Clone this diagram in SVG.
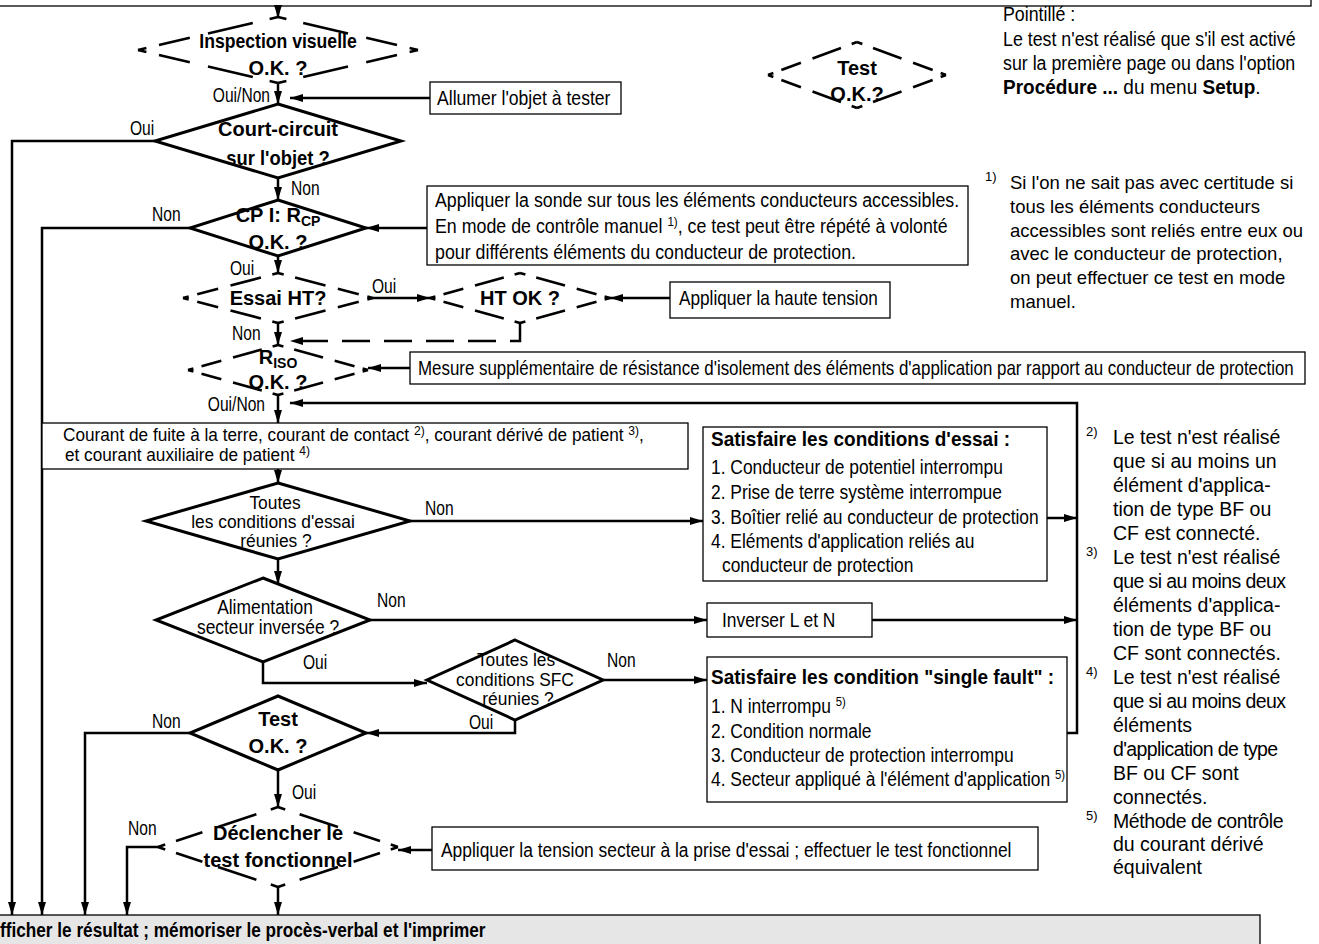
<svg xmlns="http://www.w3.org/2000/svg" width="1319" height="944" viewBox="0 0 1319 944">
<defs>
<marker id="ah" viewBox="0 0 13 8" refX="13" refY="4" markerWidth="13" markerHeight="8" markerUnits="userSpaceOnUse" orient="auto"><path d="M0,0 L13,4 L0,8 z" fill="#000"/></marker>
<style>
.n{font-family:"Liberation Sans",Arial,sans-serif;font-size:20px;fill:#000}
.m{font-size:18.5px}
.l{font-family:"Liberation Sans",Arial,sans-serif;font-size:19.5px;fill:#000}
.b{font-weight:bold}
.f{font-family:"Liberation Sans",Arial,sans-serif;font-size:19.5px;fill:#000}
.f1{font-size:18.5px}
.sup{font-size:13px}
.c{text-anchor:middle}
.e{text-anchor:end}
.box{fill:#fff;stroke:#000;stroke-width:1.3}
.dia{fill:#fff;stroke:#000;stroke-width:3;stroke-linejoin:miter}
.dd{fill:none;stroke:#000;stroke-width:2.6;stroke-dasharray:6 9 22 13 32 12 6}
.cn{fill:none;stroke:#000;stroke-width:2.5}
.ar{marker-end:url(#ah)}
.dash{stroke-dasharray:28 14}
</style>
</defs>
<rect width="1319" height="944" fill="#fff"/>

<g id="top-box"><rect class="box" x="-2" y="-30" width="1313" height="36"/></g>

<g id="connectors">
<path class="cn ar" d="M278,6 V18"/>
<path class="cn ar" d="M278,84 V104"/>
<path class="cn ar" d="M430,98 H290"/>
<path class="cn ar" d="M155,141 H12 V915"/>
<path class="cn ar" d="M278,178 V200"/>
<path class="cn ar" d="M427,228 H366"/>
<path class="cn ar" d="M190,228 H42 V915"/>
<path class="cn ar" d="M278,256 V273"/>
<path class="cn ar" d="M373,298 H430"/>
<path class="cn ar" d="M670,298 H610"/>
<path class="cn ar" d="M278,323 V345"/>
<path class="cn dash ar" d="M520,323 V341 H290"/>
<path class="cn ar" d="M410,368 H368"/>
<path class="cn ar" d="M278,395 V423"/>
<path class="cn ar" d="M1067,733 H1077 V403 H290"/>
<path class="cn ar" d="M278,469 V483"/>
<path class="cn ar" d="M410,521 H703"/>
<path class="cn ar" d="M1047,518 H1077"/>
<path class="cn ar" d="M278,559 V584"/>
<path class="cn ar" d="M370,620 H707"/>
<path class="cn ar" d="M872,620 H1077"/>
<path class="cn ar" d="M263,662 V683 H427"/>
<path class="cn ar" d="M603,680 H707"/>
<path class="cn ar" d="M515,720 V733 H366"/>
<path class="cn ar" d="M190,733 H85 V915"/>
<path class="cn ar" d="M278,770 V807"/>
<path class="cn ar" d="M158,847 H127 V915"/>
<path class="cn ar" d="M432,850 H398"/>
<path class="cn ar" d="M278,887 V915"/>
</g>

<g id="labels">
<text class="l e" transform="translate(270,102) scale(.8,1)">Oui/Non</text>
<text class="l" transform="translate(130,135) scale(.8,1)">Oui</text>
<text class="l" transform="translate(291,195) scale(.8,1)">Non</text>
<text class="l" transform="translate(152,221) scale(.8,1)">Non</text>
<text class="l" transform="translate(230,275) scale(.8,1)">Oui</text>
<text class="l" transform="translate(372,293) scale(.8,1)">Oui</text>
<text class="l" transform="translate(232,340) scale(.8,1)">Non</text>
<text class="l e" transform="translate(265,411) scale(.8,1)">Oui/Non</text>
<text class="l" transform="translate(425,515) scale(.8,1)">Non</text>
<text class="l" transform="translate(377,607) scale(.8,1)">Non</text>
<text class="l" transform="translate(303,669) scale(.8,1)">Oui</text>
<text class="l" transform="translate(607,667) scale(.8,1)">Non</text>
<text class="l" transform="translate(469,729) scale(.8,1)">Oui</text>
<text class="l" transform="translate(152,728) scale(.8,1)">Non</text>
<text class="l" transform="translate(292,799) scale(.8,1)">Oui</text>
<text class="l" transform="translate(128,835) scale(.8,1)">Non</text>
</g>

<g id="inspection">
<path class="dd" pathLength="100" d="M138,50 L278,17"/><path class="dd" pathLength="100" d="M418,50 L278,17"/>
<path class="dd" pathLength="100" d="M138,50 L278,83"/><path class="dd" pathLength="100" d="M418,50 L278,83"/>
<text class="n b c" transform="translate(278,48) scale(.88,1)">Inspection visuelle</text>
<text class="n b c" transform="translate(278,75)">O.K. ?</text>
</g>

<g id="allumer"><rect class="box" x="430" y="82" width="191" height="32"/><text class="n" transform="translate(437,105) scale(.88,1)">Allumer l'objet à tester</text></g>

<g id="court-circuit">
<path class="dia" d="M278,104 L401,141 L278,178 L155,141 Z"/>
<text class="n b c" transform="translate(278,136)">Court-circuit</text>
<text class="n b c" transform="translate(278,165) scale(.92,1)">sur l'objet ?</text>
</g>

<g id="sonde"><rect class="box" x="427" y="186" width="541" height="79"/>
<text class="n" transform="translate(435,207) scale(.89,1)">Appliquer la sonde sur tous les éléments conducteurs accessibles.</text>
<text class="n" transform="translate(435,233) scale(.89,1)">En mode de contrôle manuel <tspan class="sup" dy="-7">1)</tspan><tspan dy="7">, ce test peut être répété à volonté</tspan></text>
<text class="n" transform="translate(435,259) scale(.89,1)">pour différents éléments du conducteur de protection.</text>
</g>

<g id="cp">
<path class="dia" d="M278,200 L366,228 L278,256 L190,228 Z"/>
<text class="n b c" font-size="18" transform="translate(278,222)">CP I: R<tspan font-size="14" dy="4">CP</tspan></text>
<text class="n b c" font-size="18" transform="translate(278,249)">O.K. ?</text>
</g>

<g id="essai-ht">
<path class="dd" pathLength="100" d="M183,298 L278,273"/><path class="dd" pathLength="100" d="M373,298 L278,273"/>
<path class="dd" pathLength="100" d="M183,298 L278,323"/><path class="dd" pathLength="100" d="M373,298 L278,323"/>
<text class="n b c" transform="translate(278,305)">Essai HT?</text>
</g>

<g id="ht-ok">
<path class="dd" pathLength="100" d="M430,298 L520,273"/><path class="dd" pathLength="100" d="M610,298 L520,273"/>
<path class="dd" pathLength="100" d="M430,298 L520,323"/><path class="dd" pathLength="100" d="M610,298 L520,323"/>
<text class="n b c" transform="translate(520,305)">HT OK ?</text>
</g>

<g id="haute-tension"><rect class="box" x="670" y="282" width="220" height="36"/><text class="n" transform="translate(679,305) scale(.86,1)">Appliquer la haute tension</text></g>

<g id="riso">
<path class="dd" pathLength="100" d="M188,370 L278,345"/><path class="dd" pathLength="100" d="M368,370 L278,345"/>
<path class="dd" pathLength="100" d="M188,370 L278,395"/><path class="dd" pathLength="100" d="M368,370 L278,395"/>
<text class="n b c" font-size="18" transform="translate(278,364)">R<tspan font-size="14" dy="4">ISO</tspan></text>
<text class="n b c" font-size="18" transform="translate(278,389)">O.K. ?</text>
</g>

<g id="mesure"><rect class="box" x="410" y="352" width="895" height="32"/><text class="n" transform="translate(418,375) scale(.845,1)">Mesure supplémentaire de résistance d'isolement des éléments d'application par rapport au conducteur de protection</text></g>

<g id="courant"><rect class="box" x="42" y="423" width="646" height="46"/>
<text class="n m" transform="translate(63,441) scale(.93,1)">Courant de fuite à la terre, courant de contact <tspan class="sup" dy="-6">2)</tspan><tspan dy="6">, courant dérivé de patient </tspan><tspan class="sup" dy="-6">3)</tspan><tspan dy="6">,</tspan></text>
<text class="n m" transform="translate(65,461) scale(.93,1)">et courant auxiliaire de patient <tspan class="sup" dy="-6">4)</tspan></text>
</g>

<g id="toutes-conditions">
<path class="dia" d="M278,483 L410,521 L278,559 L146,521 Z"/>
<text class="n m c" transform="translate(275,509) scale(.94,1)">Toutes</text>
<text class="n m c" transform="translate(273,528) scale(.94,1)">les conditions d'essai</text>
<text class="n m c" transform="translate(276,547) scale(.94,1)">réunies ?</text>
</g>

<g id="conditions-essai"><rect class="box" x="703" y="427" width="344" height="154"/>
<text class="n b" transform="translate(711,446) scale(.95,1)">Satisfaire les conditions d'essai :</text>
<text class="n" transform="translate(711,474) scale(.87,1)">1. Conducteur de potentiel interrompu</text>
<text class="n" transform="translate(711,499) scale(.87,1)">2. Prise de terre système interrompue</text>
<text class="n" transform="translate(711,524) scale(.87,1)">3. Boîtier relié au conducteur de protection</text>
<text class="n" transform="translate(711,548) scale(.87,1)">4. Eléments d'application reliés au</text>
<text class="n" transform="translate(722,572) scale(.87,1)">conducteur de protection</text>
</g>

<g id="alimentation">
<path class="dia" d="M263,578 L370,620 L263,662 L156,620 Z"/>
<text class="n c" transform="translate(265,614) scale(.87,1)">Alimentation</text>
<text class="n c" transform="translate(268,634) scale(.87,1)">secteur inversée ?</text>
</g>

<g id="inverser"><rect class="box" x="707" y="603" width="165" height="34"/><text class="n" transform="translate(722,627) scale(.87,1)">Inverser L et N</text></g>

<g id="sfc">
<path class="dia" d="M515,640 L603,680 L515,720 L427,680 Z"/>
<text class="n m c" transform="translate(516,666) scale(.94,1)">Toutes les</text>
<text class="n m c" transform="translate(515,686) scale(.94,1)">conditions SFC</text>
<text class="n m c" transform="translate(518,705) scale(.94,1)">réunies ?</text>
</g>

<g id="single-fault"><rect class="box" x="707" y="657" width="360" height="145"/>
<text class="n b" transform="translate(711,684) scale(.95,1)">Satisfaire les condition "single fault" :</text>
<text class="n" transform="translate(711,713) scale(.87,1)">1. N interrompu <tspan class="sup" dy="-7">5)</tspan></text>
<text class="n" transform="translate(711,738) scale(.87,1)">2. Condition normale</text>
<text class="n" transform="translate(711,762) scale(.87,1)">3. Conducteur de protection interrompu</text>
<text class="n" transform="translate(711,786) scale(.87,1)">4. Secteur appliqué à l'élément d'application <tspan class="sup" dy="-7">5)</tspan></text>
</g>

<g id="test-ok">
<path class="dia" d="M278,696 L366,733 L278,770 L190,733 Z"/>
<text class="n b c" transform="translate(278,726)">Test</text>
<text class="n b c" transform="translate(278,753)">O.K. ?</text>
</g>

<g id="declencher">
<path class="dd" pathLength="100" d="M158,847 L278,807"/><path class="dd" pathLength="100" d="M398,847 L278,807"/>
<path class="dd" pathLength="100" d="M158,847 L278,887"/><path class="dd" pathLength="100" d="M398,847 L278,887"/>
<text class="n b c" transform="translate(278,840)">Déclencher le</text>
<text class="n b c" transform="translate(278,867)">test fonctionnel</text>
</g>

<g id="tension-secteur"><rect class="box" x="432" y="827" width="606" height="43"/><text class="n" transform="translate(441,857) scale(.87,1)">Appliquer la tension secteur à la prise d'essai ; effectuer le test fonctionnel</text></g>

<g id="resultat"><rect x="-2" y="915" width="1262" height="40" fill="#e6e6e6" stroke="#000" stroke-width="1.3"/>
<text class="n b" transform="translate(0,937) scale(.86,1)">fficher le résultat ; mémoriser le procès-verbal et l'imprimer</text></g>

<g id="legend">
<path class="dd" pathLength="100" d="M768,75 L857,42"/><path class="dd" pathLength="100" d="M946,75 L857,42"/>
<path class="dd" pathLength="100" d="M768,75 L857,108"/><path class="dd" pathLength="100" d="M946,75 L857,108"/>
<text class="n b c" transform="translate(857,75)">Test</text>
<text class="n b c" transform="translate(857,101)">O.K.?</text>
<text class="n" transform="translate(1003,21) scale(.89,1)">Pointillé :</text>
<text class="n" transform="translate(1003,46) scale(.89,1)">Le test n'est réalisé que s'il est activé</text>
<text class="n" transform="translate(1003,70) scale(.89,1)">sur la première page ou dans l'option</text>
<text class="n" transform="translate(1003,94) scale(.95,1)"><tspan class="b">Procédure ...</tspan> du menu <tspan class="b">Setup</tspan>.</text>
</g>

<g id="footnotes">
<text class="f sup" x="985" y="181">1)</text>
<text class="f f1" x="1010" y="189">Si l'on ne sait pas avec certitude si</text>
<text class="f f1" x="1010" y="213">tous les éléments conducteurs</text>
<text class="f f1" x="1010" y="237">accessibles sont reliés entre eux ou</text>
<text class="f f1" x="1010" y="260">avec le conducteur de protection,</text>
<text class="f f1" x="1010" y="284">on peut effectuer ce test en mode</text>
<text class="f f1" x="1010" y="308">manuel.</text>
<text class="f sup" x="1086" y="436">2)</text>
<text class="f" x="1113" y="444">Le test n'est réalisé</text>
<text class="f" x="1113" y="468">que si au moins un</text>
<text class="f" x="1113" y="492">élément d'applica-</text>
<text class="f" x="1113" y="516">tion de type BF ou</text>
<text class="f" x="1113" y="540">CF est connecté.</text>
<text class="f sup" x="1086" y="556">3)</text>
<text class="f" x="1113" y="564">Le test n'est réalisé</text>
<text class="f" x="1113" y="588" letter-spacing="-0.6">que si au moins deux</text>
<text class="f" x="1113" y="612">éléments d'applica-</text>
<text class="f" x="1113" y="636">tion de type BF ou</text>
<text class="f" x="1113" y="660">CF sont connectés.</text>
<text class="f sup" x="1086" y="676">4)</text>
<text class="f" x="1113" y="684">Le test n'est réalisé</text>
<text class="f" x="1113" y="708" letter-spacing="-0.6">que si au moins deux</text>
<text class="f" x="1113" y="732">éléments</text>
<text class="f" x="1113" y="756" letter-spacing="-0.6">d'application de type</text>
<text class="f" x="1113" y="780">BF ou CF sont</text>
<text class="f" x="1113" y="804">connectés.</text>
<text class="f sup" x="1086" y="820">5)</text>
<text class="f" x="1113" y="828" letter-spacing="-0.4">Méthode de contrôle</text>
<text class="f" x="1113" y="851">du courant dérivé</text>
<text class="f" x="1113" y="874">équivalent</text>
</g>
</svg>
